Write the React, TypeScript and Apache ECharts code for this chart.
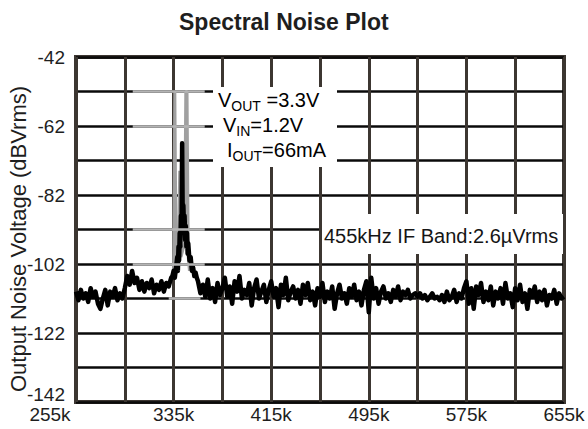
import React, { useEffect, useRef } from "react";
import * as echarts from "echarts";

const titleText = "Spectral Noise Plot";
const yAxisName = "Output Noise Voltage (dBVrms)";
const xMin = 255;
const xMax = 655;
const xStep = 40;
const xLabelStep = 80;
const yMin = -142;
const yMax = -42;
const yStep = 10;
const yLabelStep = 20;

// black noise trace: [frequency kHz, dBVrms]
const noiseTrace: number[][] = [
  [255, -110], [257, -112.5], [259, -109.5], [261, -112], [263, -110.5], [265, -113], [267, -109], [269, -111.5], [271, -110], [273, -113.5],
  [275, -115], [277, -112], [279, -109.5], [281, -114], [283, -110], [285, -111.5], [287, -109], [289, -112.5], [291, -110.5], [293, -112],
  [295, -109], [297, -105.5], [299, -108], [301, -104], [303, -107.5], [305, -106], [307, -109.5], [309, -107], [311, -110], [313, -107.5],
  [315, -109], [317, -106.5], [319, -110.5], [321, -108], [323, -109.5], [325, -107], [327, -110], [329, -107.5], [331, -108.5], [333, -106],
  [334, -105.5], [335, -104], [336, -106], [337, -103], [338, -100], [338.5, -104], [339, -97], [339.5, -101], [340, -93], [340.5, -97],
  [341, -88], [341.5, -92], [342, -67], [342.5, -90], [343, -85], [343.5, -91], [344, -88], [344.5, -95], [345, -91], [345.5, -97],
  [346, -93], [346.5, -99], [347, -96], [348, -101], [349, -100], [350, -104], [351, -103], [352, -105.5], [353, -104.5], [354, -106],
  [355, -107], [357, -110.5], [359, -108], [361, -111.5], [363, -106.5],
  [365, -112], [367, -109], [369, -113], [371, -107.5], [373, -111], [375, -109], [377, -106], [379, -111.5], [381, -108.5], [383, -113.5],
  [385, -107], [387, -110], [389, -105.5], [391, -112], [393, -109.5], [395, -111], [397, -107.5], [399, -114], [401, -109], [403, -106.5],
  [405, -112], [407, -110], [409, -108], [411, -113], [413, -109.5], [415, -107], [417, -111.5], [419, -109], [421, -114.5], [423, -108],
  [425, -111], [427, -106], [429, -112.5], [431, -110], [433, -108.5], [435, -112], [437, -109.5], [439, -113.5], [441, -108], [443, -111],
  [445, -107.5], [447, -112.5], [449, -110], [451, -114], [453, -109], [455, -111.5], [457, -107.5], [459, -113], [461, -110], [463, -112],
  [465, -108.5], [467, -115], [469, -110.5], [471, -108], [473, -112], [475, -110.5], [477, -113.5], [479, -109], [481, -111.5], [483, -108],
  [485, -112.5], [487, -110], [489, -114], [491, -109.5], [493, -107], [495, -116], [497, -106], [499, -112], [501, -109], [503, -113.5],
  [505, -110], [507, -108.5], [509, -112], [511, -110.5], [513, -113], [515, -109.5], [517, -111.5], [519, -108.5], [521, -112.5], [523, -110],
  [525, -111], [527, -109.5], [529, -112], [531, -111], [533, -110.5], [535, -111.5], [537, -110.5], [539, -112], [541, -111], [543, -112.5],
  [545, -111.5], [547, -110.5], [549, -112], [551, -111.5], [553, -112.5], [555, -111], [557, -113], [559, -110], [561, -112.5], [563, -111.5],
  [565, -109.5], [567, -113], [569, -110.5], [571, -112], [573, -109], [575, -107], [577, -113.5], [579, -109], [581, -115], [583, -108.5],
  [585, -111], [587, -107.5], [589, -113], [591, -110], [593, -112.5], [595, -108.5], [597, -114], [599, -110], [601, -112], [603, -109],
  [605, -113.5], [607, -107.5], [609, -112], [611, -110.5], [613, -114.5], [615, -109], [617, -112.5], [619, -108], [621, -113], [623, -110.5],
  [625, -115], [627, -109.5], [629, -111.5], [631, -108.5], [633, -113], [635, -110], [637, -112.5], [639, -109.5], [641, -114], [643, -111],
  [645, -112], [647, -109.5], [649, -113.5], [651, -110.5], [653, -112], [655, -111.5],
];

// grey max-hold spikes around the carrier
const greyTrace: number[][] = [
  [334, -106], [335, -103], [336, -52], [337, -100], [339, -98], [340, -75], [341, -100], [344, -96], [345, -52], [346, -52], [347, -100], [348, -104],
];

// grey patches on horizontal grid lines: [fromK, toK, level]
const greyGridPatches: number[][] = [
  [301.5, 360.5, -52], [301.5, 360.5, -62], [301.5, 360.5, -92], [301.5, 360.5, -102], [331, 357, -112],
];

const annotationLines = [
  "{m|V}{s|OUT}{m| =3.3V}",
  "{m|V}{s|IN}{m|=1.2V}",
  "{m|I}{s|OUT}{m|=66mA}",
];
const bandNote = "455kHz IF Band:2.6\u00b5Vrms";

const FONT = "'Liberation Sans', Arial, sans-serif";

export default function App() {
  const ref = useRef<HTMLDivElement>(null);
  useEffect(() => {
    document.body.style.margin = "0";
    if (!ref.current) return;
    const chart = echarts.init(ref.current, null, { renderer: "svg" });
    const rich = {
      m: { fontSize: 20, fontFamily: FONT, color: "#151515", lineHeight: 26, verticalAlign: "middle" },
      s: { fontSize: 14, fontFamily: FONT, color: "#151515", lineHeight: 15, verticalAlign: "bottom" },
    };
    const annX = [218, 223, 227];
    const annY = [100, 125, 150];
    const tickFont = { fontSize: 19, fontFamily: FONT, color: "#1e1e1e" };
    chart.setOption({
      animation: false,
      backgroundColor: "#ffffff",
      title: {
        text: titleText,
        left: 174,
        top: 5,
        textStyle: { fontSize: 23, fontWeight: "bold", color: "#1e1e1e", fontFamily: FONT },
      },
      grid: {
        left: 76,
        right: 24,
        top: 57,
        bottom: 27,
        show: true,
        borderColor: "#3c3631",
        borderWidth: 4,
        containLabel: false,
        outerBoundsMode: "none",
      },
      xAxis: {
        type: "value",
        min: xMin,
        max: xMax,
        interval: xStep,
        axisLine: { show: false },
        axisTick: { show: false },
        splitLine: { show: true, lineStyle: { color: "#3c3631", width: 3 } },
        axisLabel: {
          showMinLabel: true,
          showMaxLabel: true,
          hideOverlap: false,
          margin: 3,
          ...tickFont,
          formatter: (v: number) => {
            if (Math.round(v - xMin) % xLabelStep !== 0) return "";
            return Math.round(v) === xMin ? `{f|${v}k}` : `${v}k`;
          },
          rich: { f: { ...tickFont, padding: [0, 52, 0, 0] } },
        },
      },
      yAxis: {
        type: "value",
        min: yMin,
        max: yMax,
        interval: yStep,
        axisLine: { show: false },
        axisTick: { show: false },
        splitLine: { show: true, lineStyle: { color: "#0a0a0a", width: 2.5 } },
        axisLabel: {
          showMinLabel: true,
          showMaxLabel: true,
          hideOverlap: false,
          margin: 11,
          ...tickFont,
          formatter: (v: number) => {
            if (Math.round(v - yMin) % yLabelStep !== 0) return "";
            return Math.round(v) === yMin ? `{b|${Math.round(v)}}` : `${Math.round(v)}`;
          },
          rich: { b: { ...tickFont, padding: [0, 0, 16, 0] } },
        },
      },
      series: [
        {
          type: "line",
          data: greyTrace,
          showSymbol: false,
          lineStyle: { color: "#a0a0a0", width: 3 },
          z: 2,
          markLine: {
            silent: true,
            symbol: "none",
            label: { show: false },
            lineStyle: { color: "#b4b4b4", width: 2.5, type: "solid" },
            data: greyGridPatches.map((p) => [{ coord: [p[0], p[2]] }, { coord: [p[1], p[2]] }]),
          },
        },
        {
          type: "line",
          data: noiseTrace,
          showSymbol: false,
          lineStyle: { color: "#000000", width: 4.5, join: "round" },
          z: 3,
        },
      ],
      graphic: [
        {
          type: "text",
          z: 50,
          x: 18,
          y: 239,
          rotation: Math.PI / 2,
          style: { text: yAxisName, fontSize: 22, fontFamily: FONT, fill: "#1e1e1e", align: "center", verticalAlign: "middle" },
        },
        { type: "rect", z: 100, shape: { x: 213, y: 87, width: 124, height: 80 }, style: { fill: "#ffffff" } },
        { type: "rect", z: 100, shape: { x: 322, y: 214, width: 241, height: 40 }, style: { fill: "#ffffff" } },
        ...annotationLines.map((t, i) => ({
          type: "text",
          z: 101,
          x: annX[i],
          y: annY[i],
          style: { text: t, rich, verticalAlign: "middle", align: "left" },
        })),
        {
          type: "text",
          z: 101,
          x: 324,
          y: 236,
          style: { text: bandNote, fontSize: 20, fontFamily: FONT, fill: "#151515", verticalAlign: "middle", align: "left" },
        },
      ],
    });
    return () => chart.dispose();
  }, []);
  return <div ref={ref} style={{ width: 588, height: 429 }} />;
}
